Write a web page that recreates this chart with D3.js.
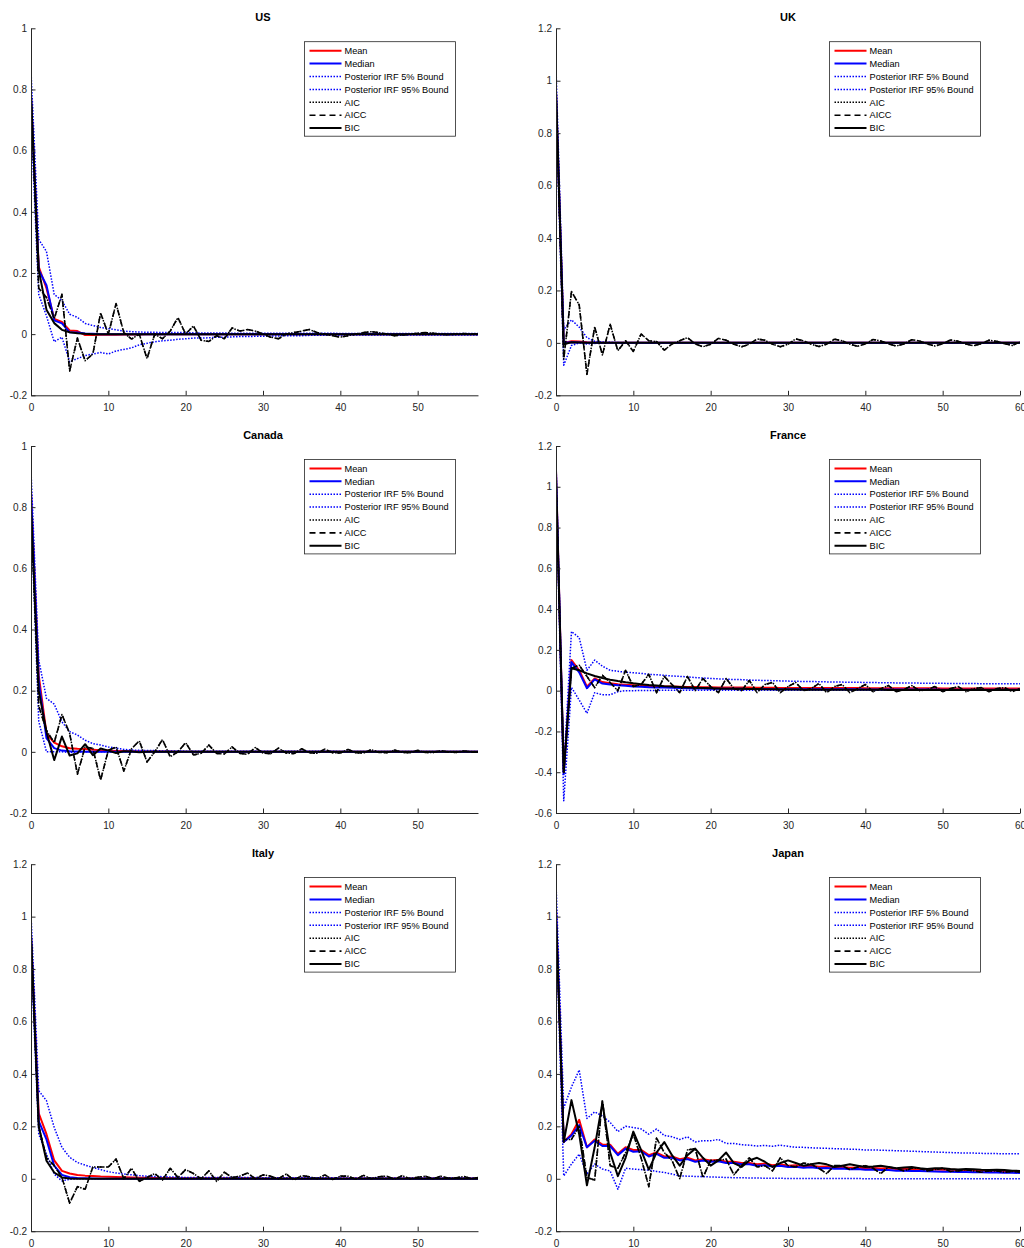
<!DOCTYPE html>
<html><head><meta charset="utf-8">
<script src="https://cdn.jsdelivr.net/npm/d3@7"></script>
<style>
body{margin:0;background:#fff}
text{font-family:"Liberation Sans",Arial,Helvetica,sans-serif}
</style>
</head><body>
<svg id="chart" width="1024" height="1248"></svg>
<script>
// ---------------- DATA ----------------
const titles = ["US","UK","Canada","France","Italy","Japan"];
const legendLabels = ["Mean","Median","Posterior IRF 5% Bound","Posterior IRF 95% Bound","AIC","AICC","BIC"];
const yDomains = [[-0.2,1],[-0.2,1.2],[-0.2,1],[-0.6,1.2],[-0.2,1.2],[-0.2,1.2]];
const xLimits = [57.8,60,57.8,60,57.8,60];

// US (horizons 0..58)
const usMean = [0.78,0.22,0.15,0.05,0.04,0.012,0.01,-0.003,-0.003,-0.002,
 -0.002,-0.002,-0.001,-0.001,-0.001,0,0,0,0,0,
 0,0,0,0,0,0,0,0,0,0, 0,0,0,0,0,0,0,0,0,0, 0,0,0,0,0,0,0,0,0,0, 0,0,0,0,0,0,0,0,0];
const usMedian = [0.78,0.21,0.16,0.045,0.035,0.006,0.005,0.002,0.001,0,
 0,0,0,0,0,0,0,0,0,0, 0,0,0,0,0,0,0,0,0,0, 0,0,0,0,0,0,0,0,0,0, 0,0,0,0,0,0,0,0,0,0, 0,0,0,0,0,0,0,0,0];
const usUpper = [0.86,0.31,0.27,0.13,0.11,0.065,0.055,0.035,0.028,0.022,
 0.018,0.014,0.01,0.008,0.007,0.006,0.006,0.005,0.005,0.005,
 0.005,0.004,0.004,0.004,0.004,0.004,0.003,0.003,0.003,0.003,
 0.003,0.003,0.003,0.003,0.003,0.003,0.003,0.003,0.003,0.003,
 0.002,0.002,0.002,0.002,0.002,0.002,0.002,0.002,0.002,0.002,
 0.002,0.002,0.002,0.002,0.002,0.002,0.002,0.002,0.002];
const usLower = [0.7,0.13,0.06,-0.025,-0.01,-0.09,-0.08,-0.07,-0.065,-0.06,
 -0.065,-0.055,-0.05,-0.045,-0.035,-0.03,-0.025,-0.022,-0.02,-0.017,
 -0.015,-0.013,-0.013,-0.012,-0.01,-0.01,-0.009,-0.008,-0.008,-0.007,
 -0.007,-0.006,-0.006,-0.005,-0.005,-0.005,-0.004,-0.004,-0.004,-0.004,
 -0.003,-0.003,-0.003,-0.003,-0.003,-0.003,-0.003,-0.003,-0.003,-0.003,
 -0.003,-0.003,-0.003,-0.003,-0.003,-0.003,-0.003,-0.003,-0.003];
const usAic = [0.78,0.15,0.12,0.05,0.13,-0.12,-0.013,-0.087,-0.065,0.069,
 0,0.1,0.005,-0.016,0,-0.08,0,-0.015,0.01,0.054,
 0,0.027,-0.02,-0.024,-0.005,-0.015,0.02,0.01,0.015,0.01,
 0,-0.01,-0.015,0,0.005,0.01,0.015,0.005,0,-0.005,
 -0.01,-0.005,0,0.005,0.008,0.005,0,-0.005,-0.003,0,
 0.003,0.005,0.003,0,-0.002,0,0.002,0,0];
const usAicc = usAic.slice();
const usBic = [0.78,0.21,0.08,0.036,0.014,0.006,0.003,0.001,0,0,
 0,0,0,0,0,0,0,0,0,0, 0,0,0,0,0,0,0,0,0,0, 0,0,0,0,0,0,0,0,0,0, 0,0,0,0,0,0,0,0,0,0, 0,0,0,0,0,0,0,0,0];

// UK (horizons 0..60)
const ukMean = [0.96,0,0.006,0.005,0.002,0.001,0,0,0,0,
 0,0,0,0,0,0,0,0,0,0, 0,0,0,0,0,0,0,0,0,0, 0,0,0,0,0,0,0,0,0,0, 0,0,0,0,0,0,0,0,0,0, 0,0,0,0,0,0,0,0,0,0, 0];
const ukMedian = [0.96,0,0.002,0.001,0,0,0,0,0,0,
 0,0,0,0,0,0,0,0,0,0, 0,0,0,0,0,0,0,0,0,0, 0,0,0,0,0,0,0,0,0,0, 0,0,0,0,0,0,0,0,0,0, 0,0,0,0,0,0,0,0,0,0, 0];
const ukUpper = [1.05,0.05,0.088,0.06,0.02,0.006,0.003,0.002,0.001,0,
 0,0,0,0,0,0,0,0,0,0, 0,0,0,0,0,0,0,0,0,0, 0,0,0,0,0,0,0,0,0,0, 0,0,0,0,0,0,0,0,0,0, 0,0,0,0,0,0,0,0,0,0, 0];
const ukLower = [0.9,-0.085,-0.01,0,-0.004,-0.002,0,0,0,0,
 0,0,0,0,0,0,0,0,0,0, 0,0,0,0,0,0,0,0,0,0, 0,0,0,0,0,0,0,0,0,0, 0,0,0,0,0,0,0,0,0,0, 0,0,0,0,0,0,0,0,0,0, 0];
const ukAic = [0.96,-0.062,0.196,0.145,-0.12,0.061,-0.046,0.071,-0.03,0.008,
 -0.033,0.034,0.008,0.005,-0.028,-0.004,0.008,0.02,-0.004,-0.015,
 -0.005,0.017,0.01,-0.005,-0.015,-0.005,0.015,0.01,-0.005,-0.015,
 -0.005,0.015,0.008,-0.005,-0.014,-0.005,0.014,0.008,-0.005,-0.013,
 -0.004,0.013,0.007,-0.004,-0.012,-0.004,0.012,0.007,-0.004,-0.012,
 -0.003,0.011,0.006,-0.004,-0.011,-0.003,0.01,0.006,-0.003,-0.01,
 0.004];
const ukAicc = ukAic.slice();
const ukBic = [0.96,-0.005,0.002,0.001,0,0,0,0,0,0,
 0,0,0,0,0,0,0,0,0,0, 0,0,0,0,0,0,0,0,0,0, 0,0,0,0,0,0,0,0,0,0, 0,0,0,0,0,0,0,0,0,0, 0,0,0,0,0,0,0,0,0,0, 0];

// Canada (horizons 0..58)
const caMean = [0.85,0.25,0.06,0.03,0.018,0.012,0.01,0.009,0.007,0.005,
 0.004,0.003,0.003,0.002,0.002,0.001,0.001,0.001,0.001,0,
 0,0,0,0,0,0,0,0,0,0, 0,0,0,0,0,0,0,0,0,0, 0,0,0,0,0,0,0,0,0,0, 0,0,0,0,0,0,0,0,0];
const caMedian = [0.85,0.23,0.045,0.012,0.004,0.002,0.001,0,0,0,
 0,0,0,0,0,0,0,0,0,0, 0,0,0,0,0,0,0,0,0,0, 0,0,0,0,0,0,0,0,0,0, 0,0,0,0,0,0,0,0,0,0, 0,0,0,0,0,0,0,0,0];
const caUpper = [0.92,0.3,0.175,0.156,0.098,0.066,0.055,0.038,0.027,0.022,
 0.016,0.012,0.008,0.006,0.005,0.004,0.004,0.003,0.003,0.003,
 0.002,0.002,0.002,0.002,0.002,0.002,0.002,0.002,0.002,0.002,
 0.002,0.002,0.002,0.002,0.002,0.002,0.002,0.002,0.002,0.002,
 0.001,0.001,0.001,0.001,0.001,0.001,0.001,0.001,0.001,0.001,
 0.001,0.001,0.001,0.001,0.001,0.001,0.001,0.001,0.001];
const caLower = [0.78,0.1,0,0,0,-0.002,-0.001,0,0,0,
 0,0,0,0,0,0,0,0,0,0, 0,0,0,0,0,0,0,0,0,0, 0,0,0,0,0,0,0,0,0,0, 0,0,0,0,0,0,0,0,0,0, 0,0,0,0,0,0,0,0,0];
const caAic = [0.8,0.15,0.07,0.03,0.122,0.06,-0.073,0.016,0.011,-0.092,
 0.005,0.016,-0.063,0.01,0.036,-0.033,0,0.04,-0.016,0,
 0.03,-0.01,-0.005,0.022,-0.005,-0.007,0.016,-0.005,-0.008,0.014,
 -0.004,-0.006,0.012,-0.004,-0.006,0.01,-0.003,-0.005,0.009,-0.003,
 -0.004,0.008,-0.003,-0.004,0.007,-0.002,-0.003,0.006,-0.002,-0.003,
 0.005,-0.002,-0.002,0.004,-0.001,-0.002,0.003,-0.001,0];
const caAicc = caAic.slice();
const caBic = [0.8,0.2,0.065,-0.027,0.05,-0.012,-0.005,0.025,-0.011,0.011,
 0.004,-0.004,0.002,0.001,-0.001,0,0,0,0,0,
 0,0,0,0,0,0,0,0,0,0, 0,0,0,0,0,0,0,0,0,0, 0,0,0,0,0,0,0,0,0,0, 0,0,0,0,0,0,0,0,0];

// France (horizons 0..60)
const frMean = [1.08,-0.4,0.15,0.1,0.02,0.06,0.042,0.036,0.032,0.029,
 0.027,0.025,0.023,0.022,0.021,0.02,0.019,0.018,0.018,0.017,
 0.017,0.016,0.016,0.015,0.015,0.015,0.014,0.014,0.014,0.013,
 0.013,0.013,0.013,0.013,0.013,0.013,0.013,0.013,0.013,0.013,
 0.012,0.012,0.012,0.012,0.012,0.012,0.012,0.012,0.012,0.012,
 0.011,0.011,0.011,0.011,0.011,0.011,0.011,0.011,0.011,0.011,0.011];
const frMedian = [1.08,-0.41,0.14,0.09,0.012,0.055,0.035,0.03,0.027,0.024,
 0.021,0.019,0.017,0.016,0.015,0.014,0.013,0.012,0.011,0.011,
 0.01,0.01,0.009,0.009,0.009,0.008,0.008,0.008,0.007,0.007,
 0.007,0.007,0.007,0.007,0.007,0.007,0.007,0.007,0.007,0.007,
 0.006,0.006,0.006,0.006,0.006,0.006,0.006,0.006,0.006,0.006,
 0.005,0.005,0.005,0.005,0.005,0.005,0.005,0.005,0.005,0.005,0.005];
const frUpper = [1.12,-0.38,0.29,0.26,0.1,0.15,0.12,0.1,0.095,0.09,
 0.088,0.085,0.08,0.078,0.075,0.072,0.07,0.068,0.064,0.062,
 0.06,0.058,0.056,0.055,0.054,0.052,0.051,0.05,0.049,0.048,
 0.047,0.046,0.045,0.045,0.044,0.043,0.042,0.042,0.041,0.041,
 0.04,0.04,0.039,0.039,0.038,0.038,0.037,0.037,0.036,0.036,
 0.036,0.035,0.035,0.035,0.035,0.034,0.034,0.034,0.034,0.034,0.034];
const frLower = [1.02,-0.54,0.016,-0.046,-0.111,-0.01,-0.02,-0.02,-0.005,0,
 0,0.001,0.001,0.001,0.002,0.002,0.002,0.002,0.002,0.002,
 0.002,0.002,0.002,0.002,0.002,0.002,0.002,0.002,0.002,0.002,
 0.002,0.002,0.002,0.002,0.002,0.002,0.002,0.002,0.002,0.002,
 0.002,0.002,0.002,0.002,0.002,0.002,0.002,0.002,0.002,0.002,
 0.002,0.002,0.002,0.002,0.002,0.002,0.002,0.002,0.002,0.002,0.002];
const frAic = [1.05,-0.4,0.11,0.125,0.07,0.015,0.075,0.04,0,0.1,
 0.02,0.03,0.08,-0.01,0.07,0.03,-0.01,0.07,0,0.06,
 0.02,-0.01,0.06,0.01,0,0.05,-0.01,0.03,0.04,-0.01,
 0.02,0.04,0,0.01,0.035,-0.01,0.02,0.03,-0.01,0.01,
 0.03,-0.005,0.01,0.025,-0.005,0.005,0.025,0,0.005,0.02,
 -0.005,0.01,0.02,-0.005,0.01,0.015,-0.005,0.01,0.015,-0.005,0.01];
const frAicc = frAic.slice();
const frBic = [1.05,-0.4,0.11,0.1,0.085,0.072,0.062,0.054,0.047,0.041,
 0.036,0.032,0.028,0.025,0.022,0.02,0.018,0.016,0.014,0.013,
 0.012,0.011,0.01,0.009,0.009,0.008,0.008,0.007,0.007,0.006,
 0.006,0.006,0.005,0.005,0.005,0.005,0.004,0.004,0.004,0.004,
 0.004,0.004,0.004,0.003,0.003,0.003,0.003,0.003,0.003,0.003,
 0.003,0.003,0.003,0.003,0.003,0.003,0.003,0.003,0.003,0.003,0.003];

// Italy (horizons 0..58)
const itMean = [0.93,0.25,0.17,0.07,0.03,0.02,0.014,0.012,0.011,0.009,
 0.008,0.007,0.006,0.005,0.004,0.004,0.003,0.003,0.003,0.002,
 0.002,0.002,0.002,0.002,0.002,0.002,0.002,0.002,0.002,0.002,
 0.001,0.001,0.001,0.001,0.001,0.001,0.001,0.001,0.001,0.001,
 0.001,0.001,0.001,0.001,0.001,0.001,0.001,0.001,0.001,0.001,
 0.001,0.001,0.001,0.001,0.001,0.001,0.001,0.001,0.001];
const itMedian = [0.93,0.22,0.15,0.05,0.015,0.006,0.003,0.002,0.001,0,
 0,0,0,0,0,0,0,0,0,0, 0,0,0,0,0,0,0,0,0,0, 0,0,0,0,0,0,0,0,0,0, 0,0,0,0,0,0,0,0,0,0, 0,0,0,0,0,0,0,0,0];
const itUpper = [1.01,0.336,0.298,0.196,0.12,0.082,0.062,0.052,0.043,0.035,
 0.027,0.022,0.018,0.015,0.012,0.01,0.009,0.008,0.007,0.006,
 0.005,0.005,0.005,0.005,0.005,0.005,0.005,0.005,0.005,0.005,
 0.004,0.004,0.004,0.004,0.004,0.004,0.004,0.004,0.004,0.004,
 0.003,0.003,0.003,0.003,0.003,0.003,0.003,0.003,0.003,0.003,
 0.003,0.003,0.003,0.003,0.003,0.003,0.003,0.003,0.003];
const itLower = [0.85,0.17,0.094,0.018,-0.008,-0.002,0,0,0,0,
 0,0,0,0,0,0,0,0,0,0, 0,0,0,0,0,0,0,0,0,0, 0,0,0,0,0,0,0,0,0,0, 0,0,0,0,0,0,0,0,0,0, 0,0,0,0,0,0,0,0,0];
const itAic = [0.93,0.2,0.08,0.05,0.005,-0.093,-0.03,-0.04,0.045,0.045,
 0.045,0.075,0,0.04,-0.01,0.005,0.02,-0.005,0.04,0.005,
 0.035,0.02,0,0.03,-0.01,0.025,0.005,0.01,0.022,0,
 0.015,0.01,0,0.018,-0.005,0.012,0.008,0,0.015,-0.003,
 0.01,0.01,-0.002,0.013,0,0.008,0.01,-0.002,0.012,0,
 0.006,0.01,0,0.01,0.002,0.004,0.009,0,0.006];
const itAicc = itAic.slice();
const itBic = [0.93,0.2,0.069,0.024,0.005,0.001,0,0,0,0,
 0,0,0,0,0,0,0,0,0,0, 0,0,0,0,0,0,0,0,0,0, 0,0,0,0,0,0,0,0,0,0, 0,0,0,0,0,0,0,0,0,0, 0,0,0,0,0,0,0,0,0];

// Japan (horizons 0..60)
const jpMean = [1.03,0.14,0.17,0.225,0.12,0.15,0.13,0.13,0.095,0.12,
 0.11,0.11,0.09,0.1,0.085,0.085,0.075,0.08,0.07,0.075,
 0.07,0.072,0.065,0.065,0.06,0.06,0.055,0.058,0.052,0.055,
 0.05,0.052,0.048,0.05,0.046,0.047,0.044,0.045,0.042,0.043,
 0.04,0.041,0.039,0.04,0.037,0.038,0.036,0.036,0.035,0.035,
 0.034,0.034,0.033,0.033,0.032,0.032,0.031,0.031,0.03,0.03,0.03];
const jpMedian = [1.03,0.14,0.165,0.205,0.12,0.145,0.125,0.125,0.09,0.115,
 0.103,0.105,0.085,0.095,0.08,0.08,0.07,0.075,0.065,0.07,
 0.065,0.067,0.06,0.06,0.055,0.055,0.05,0.052,0.047,0.05,
 0.045,0.046,0.042,0.044,0.04,0.041,0.038,0.039,0.036,0.037,
 0.034,0.035,0.033,0.033,0.031,0.031,0.03,0.03,0.029,0.028,
 0.027,0.027,0.026,0.026,0.025,0.025,0.024,0.024,0.023,0.023,0.022];
const jpUpper = [1.13,0.27,0.35,0.415,0.23,0.255,0.24,0.215,0.18,0.2,
 0.195,0.19,0.17,0.19,0.165,0.16,0.15,0.16,0.14,0.145,
 0.145,0.15,0.135,0.135,0.13,0.128,0.125,0.127,0.124,0.128,
 0.124,0.12,0.12,0.118,0.117,0.116,0.115,0.114,0.113,0.112,
 0.11,0.11,0.109,0.108,0.107,0.106,0.105,0.104,0.103,0.102,
 0.101,0.1,0.099,0.098,0.098,0.097,0.096,0.096,0.095,0.095,0.095];
const jpLower = [0.97,0.011,0.056,0.094,0.018,0.056,0.037,0.03,-0.04,0.04,
 0.037,0.035,0.033,0.028,0.024,0.018,0.011,0.01,0.009,0.008,
 0.007,0.006,0.005,0.004,0.004,0.003,0.003,0.002,0.002,0.002,
 0.001,0.001,0.001,0.001,0.001,0.001,0.001,0.001,0.001,0.001,
 0,0,0,0,0,0,0,0,0,0, 0,0,0,0,0,0,0,0,0,0,0];
const jpAic = [1.0,0.15,0.15,0.2,0.005,-0.005,0.3,0.05,0.04,0.1,
 0.17,0.08,-0.03,0.155,0.1,0.07,0,0.11,0.115,0.005,
 0.07,0.07,0.075,0.015,0.05,0.08,0.045,0.05,0.03,0.08,
 0.05,0.045,0.06,0.055,0.04,0.02,0.05,0.05,0.035,0.045,
 0.05,0.04,0.02,0.045,0.04,0.03,0.04,0.04,0.03,0.035,
 0.04,0.028,0.03,0.035,0.03,0.025,0.03,0.03,0.025,0.028,0.025];
const jpAicc = jpAic.slice();
const jpBic = [1.0,0.14,0.3,0.17,-0.025,0.12,0.29,0.1,0.01,0.08,
 0.18,0.11,0.035,0.1,0.14,0.09,0.05,0.09,0.115,0.08,
 0.05,0.07,0.1,0.06,0.045,0.07,0.08,0.065,0.045,0.06,
 0.07,0.06,0.05,0.055,0.06,0.055,0.045,0.05,0.055,0.05,
 0.045,0.047,0.05,0.045,0.04,0.043,0.045,0.04,0.037,0.04,
 0.04,0.037,0.035,0.037,0.036,0.034,0.033,0.034,0.033,0.031,0.03];

const panelSeries = [
 [usMean,usMedian,usUpper,usLower,usAic,usAicc,usBic],
 [ukMean,ukMedian,ukUpper,ukLower,ukAic,ukAicc,ukBic],
 [caMean,caMedian,caUpper,caLower,caAic,caAicc,caBic],
 [frMean,frMedian,frUpper,frLower,frAic,frAicc,frBic],
 [itMean,itMedian,itUpper,itLower,itAic,itAicc,itBic],
 [jpMean,jpMedian,jpUpper,jpLower,jpAic,jpAicc,jpBic]
];

// ---------------- LAYOUT / STYLE ----------------
const styles = [
 {color:"#ff0000", w:2,   dash:null},
 {color:"#0000ff", w:2,   dash:null},
 {color:"#0000ff", w:1.5, dash:"1.5,1.5"},
 {color:"#0000ff", w:1.5, dash:"1.5,1.5"},
 {color:"#000000", w:1.5, dash:"1.5,1.5"},
 {color:"#000000", w:1.6, dash:"6,4"},
 {color:"#000000", w:2,   dash:null}
];
const colX0 = [31, 556];
const axesW = 464;          // width covering horizons 0..60
const unit = axesW / 60;
const rowTop = [28.3, 446, 864.2];
const rowH = 367;
const axisColor = "#262626";

const svg = d3.select("#chart");
const fmt = d => String(+(+d).toFixed(1));

panelSeries.forEach((series, p) => {
  const col = p % 2, row = Math.floor(p / 2);
  const x0 = colX0[col], top = rowTop[row];
  const xlim = xLimits[p];
  const x = d3.scaleLinear().domain([0, xlim]).range([x0, x0 + xlim * unit]);
  const yd = yDomains[p];
  const y = d3.scaleLinear().domain(yd).range([top + rowH, top]);
  const g = svg.append("g");

  const clipId = "clip" + p;
  svg.append("clipPath").attr("id", clipId).append("rect")
    .attr("x", x0).attr("y", top - 5).attr("width", xlim * unit).attr("height", rowH + 10);

  // lines
  const lines = g.append("g").attr("clip-path", `url(#${clipId})`);
  series.forEach((arr, si) => {
    const st = styles[si];
    const line = d3.line().x((d, i) => x(i)).y(d => y(d));
    lines.append("path").datum(arr)
      .attr("d", line)
      .attr("fill", "none")
      .attr("stroke", st.color)
      .attr("stroke-width", st.w)
      .attr("stroke-linejoin", "round")
      .attr("stroke-dasharray", st.dash);
  });

  // axes
  const yTicks = d3.range(Math.round(yd[0] * 10), Math.round(yd[1] * 10) + 1, 2).map(v => v / 10);
  const xTicks = d3.range(0, xlim + 0.001, 10);
  const yAxis = d3.axisLeft(y).tickValues(yTicks).tickFormat(fmt)
    .tickSizeInner(-4.5).tickSizeOuter(0).tickPadding(4);
  const xAxis = d3.axisBottom(x).tickValues(xTicks).tickFormat(fmt)
    .tickSizeInner(-4.5).tickSizeOuter(0).tickPadding(8.5);
  const gy = g.append("g").attr("transform", `translate(${x0},0)`).call(yAxis);
  const gx = g.append("g").attr("transform", `translate(0,${top + rowH})`).call(xAxis);
  [gx, gy].forEach(a => {
    a.selectAll(".domain").attr("stroke", axisColor).attr("stroke-width", 1);
    a.selectAll(".tick line").attr("stroke", axisColor).attr("stroke-width", 1);
    a.selectAll(".tick text").attr("fill", axisColor)
      .style("font-size", "10px").style("font-family", '"Liberation Sans",Arial,sans-serif');
  });

  // title
  g.append("text").attr("x", x0 + axesW / 2).attr("y", top - 7)
    .attr("text-anchor", "middle").style("font-size", "11px").style("font-weight", "bold")
    .attr("fill", "#000").text(titles[p]);

  // legend
  const lx = x0 + 273.5, ly = top + 13.4;
  const lg = g.append("g");
  lg.append("rect").attr("x", lx).attr("y", ly).attr("width", 151).attr("height", 94.5)
    .attr("fill", "#fff").attr("stroke", axisColor).attr("stroke-width", 0.8);
  legendLabels.forEach((lab, i) => {
    const yy = ly + 9 + i * 12.9;
    const st = styles[i];
    lg.append("line").attr("x1", lx + 5).attr("x2", lx + 37).attr("y1", yy).attr("y2", yy)
      .attr("stroke", st.color).attr("stroke-width", st.w).attr("stroke-dasharray", st.dash);
    lg.append("text").attr("x", lx + 40).attr("y", yy).attr("dy", "0.35em")
      .style("font-size", "9.2px").attr("fill", "#000").text(lab);
  });
});
</script>
</body></html>
